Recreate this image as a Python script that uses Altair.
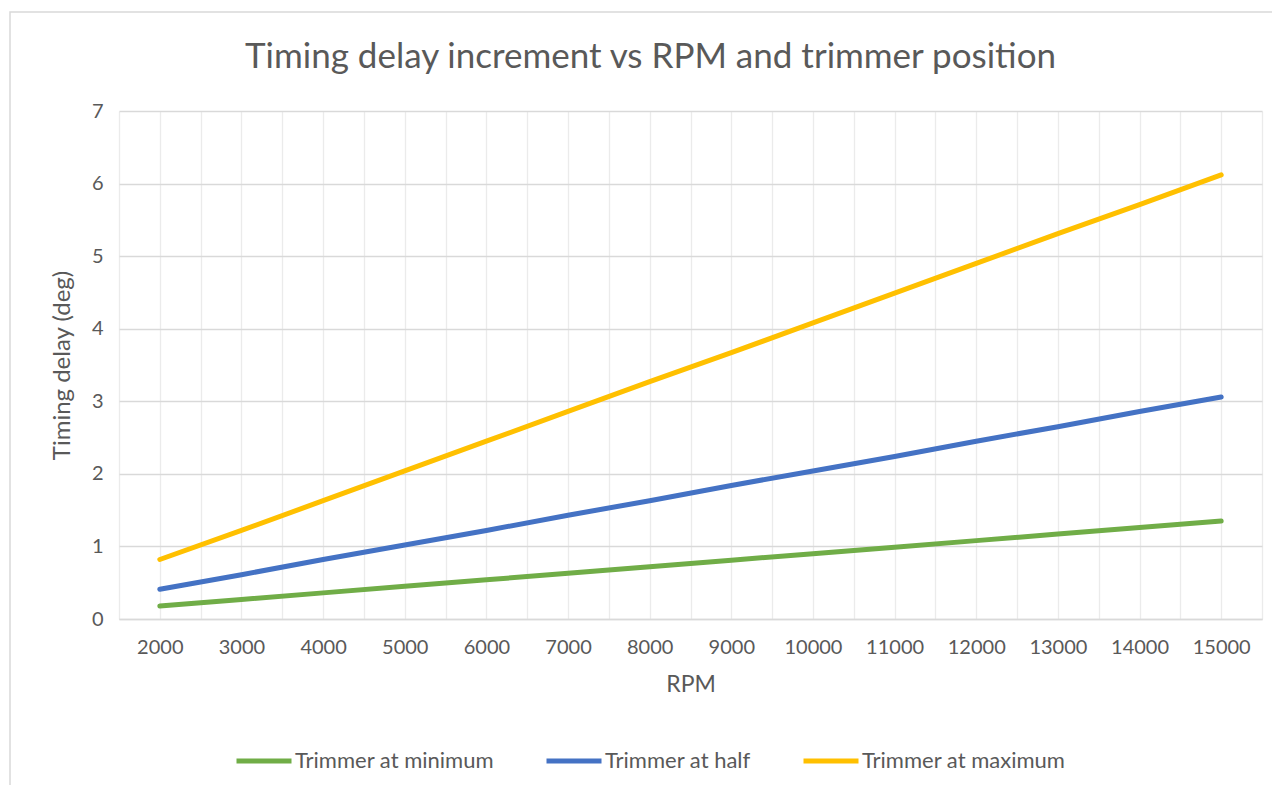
import altair as alt
import pandas as pd

rpm = [2000, 3000, 4000, 5000, 6000, 7000, 8000, 9000, 10000, 11000, 12000, 13000, 14000, 15000]
trim_min = [0.18, 0.27, 0.36, 0.45, 0.54, 0.63, 0.72, 0.81, 0.90, 0.99, 1.08, 1.17, 1.26, 1.35]
trim_half = [0.41, 0.61, 0.82, 1.02, 1.22, 1.43, 1.63, 1.84, 2.04, 2.24, 2.45, 2.65, 2.86, 3.06]
trim_max = [0.82, 1.22, 1.63, 2.04, 2.45, 2.86, 3.27, 3.67, 4.08, 4.49, 4.90, 5.31, 5.71, 6.12]

series_names = ["Trimmer at minimum", "Trimmer at half", "Trimmer at maximum"]
series_colors = ["#70AD47", "#4472C4", "#FFC000"]

rows = []
for name, vals in zip(series_names, [trim_min, trim_half, trim_max]):
    for r, v in zip(rpm, vals):
        rows.append({"RPM": r, "delay": v, "series": name})
df = pd.DataFrame(rows)

FONT = "Lato"
TEXT = "#595959"

x_vals = list(range(1500, 15501, 500))

lines = alt.Chart(df).mark_line(strokeWidth=5, strokeCap="round", strokeJoin="round").encode(
    x=alt.X("RPM:Q",
            scale=alt.Scale(domain=[1500, 15500], nice=False, zero=False),
            axis=alt.Axis(values=x_vals, format="d",
                          labelExpr="datum.value % 1000 == 0 ? datum.label : ''",
                          labelOverlap=False, labelFlush=False,
                          grid=True, gridColor="#ebebeb", gridWidth=1.3,
                          ticks=False, domain=True, domainColor="#d9d9d9", domainWidth=1.5,
                          labelFont=FONT, labelFontSize=20, labelColor=TEXT, labelPadding=18,
                          title="RPM", titleFont=FONT, titleFontSize=23, titleFontWeight="normal",
                          titleColor=TEXT, titlePadding=16)),
    y=alt.Y("delay:Q",
            scale=alt.Scale(domain=[0, 7], nice=False),
            axis=alt.Axis(values=[0, 1, 2, 3, 4, 5, 6, 7],
                          grid=True, gridColor="#d9d9d9", gridWidth=1.5,
                          ticks=False, domain=False,
                          labelFont=FONT, labelFontSize=20, labelColor=TEXT, labelPadding=16,
                          title="Timing delay (deg)", titleFont=FONT, titleFontSize=24,
                          titleFontWeight="normal", titleColor=TEXT, titlePadding=17)),
    color=alt.Color("series:N",
                    scale=alt.Scale(domain=series_names, range=series_colors),
                    legend=alt.Legend(title=None, orient="none", direction="horizontal",
                                      legendX=115, legendY=620,
                                      symbolType="stroke", symbolStrokeWidth=5, symbolSize=3025,
                                      labelFont=FONT, labelFontSize=22, labelColor=TEXT,
                                      labelLimit=0, labelOffset=1, columnPadding=42)),
    order=alt.Order("RPM:Q"),
)

border = alt.Chart(pd.DataFrame({"a": [0]})).mark_rect(
    fill=None, stroke="#d9d9d9", strokeWidth=1.5
).encode(
    x=alt.value(-109), x2=alt.value(1300), y=alt.value(-99), y2=alt.value(800)
)

chart = alt.layer(border, lines).properties(
    width=1143, height=508,
    title=alt.Title("Timing delay increment vs RPM and trimmer position",
                    font=FONT, fontSize=35, fontWeight="normal", color=TEXT,
                    anchor="middle", frame="group", offset=-64, dx=-40),
    padding={"left": 111, "top": 103, "right": 10, "bottom": 166},
    autosize=alt.AutoSizeParams(type="none"),
    background="white",
).configure_view(stroke=None)

chart.save("out.html", embed_options={"renderer": "svg", "actions": False})
